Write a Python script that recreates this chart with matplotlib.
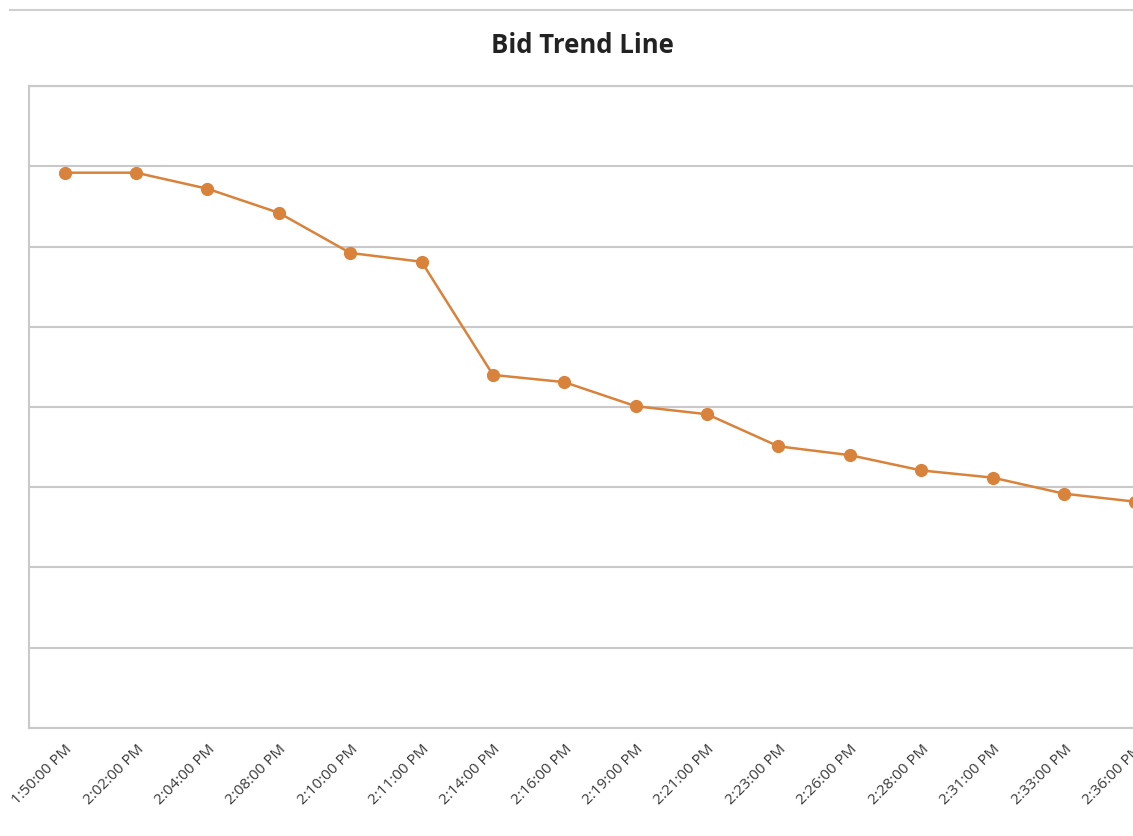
import numpy as np
import matplotlib.pyplot as plt
from matplotlib.lines import Line2D

times = ["1:50:00 PM", "2:02:00 PM", "2:04:00 PM", "2:08:00 PM", "2:10:00 PM",
         "2:11:00 PM", "2:14:00 PM", "2:16:00 PM", "2:19:00 PM", "2:21:00 PM",
         "2:23:00 PM", "2:26:00 PM", "2:28:00 PM", "2:31:00 PM", "2:33:00 PM",
         "2:36:00 PM"]
bids = [6.92, 6.92, 6.72, 6.42, 5.92, 5.81, 4.40, 4.31, 4.01, 3.91,
        3.51, 3.40, 3.21, 3.12, 2.92, 2.82]

orange = "#D9823B"
grid = "#C9C9C9"

fig = plt.figure(figsize=(11.33, 8.36), dpi=100)
# plot area runs past the right edge of the picture (the chart is cropped)
ax = fig.add_axes([0.0256, 0.1292, 1.008, 0.7679])

x = np.arange(len(times))
ax.plot(x, bids, color=orange, lw=1.8, marker="o", markersize=8.5,
        markerfacecolor=orange, markeredgecolor=orange, zorder=3)

ax.set_xlim(-0.5, len(times) - 0.5)
ax.set_ylim(0, 8)
ax.set_yticks(np.arange(0, 9, 1))
ax.yaxis.grid(True, color=grid, lw=1.5)
ax.set_yticklabels([])
ax.tick_params(axis="y", length=0)

ax.set_xticks(x)
ax.set_xticklabels(times, rotation=45, ha="right", rotation_mode="anchor",
                   fontsize=11, color="#3A3A3A", family="Open Sans")
ax.tick_params(axis="x", length=0, pad=10)

for side in ["left", "bottom", "top"]:
    ax.spines[side].set_color(grid)
    ax.spines[side].set_linewidth(1.5)
ax.spines["right"].set_visible(False)

fig.text(0.514, 0.946, "Bid Trend Line", ha="center", va="center",
         fontsize=18.5, fontweight="bold", family="Open Sans", color="#222222")

# outer chart frame line at the top
fig.add_artist(Line2D([0.009, 1.0], [0.988, 0.988], transform=fig.transFigure,
                      color="#D0D0D0", lw=1.5))

fig.savefig("out.png", dpi=100)
